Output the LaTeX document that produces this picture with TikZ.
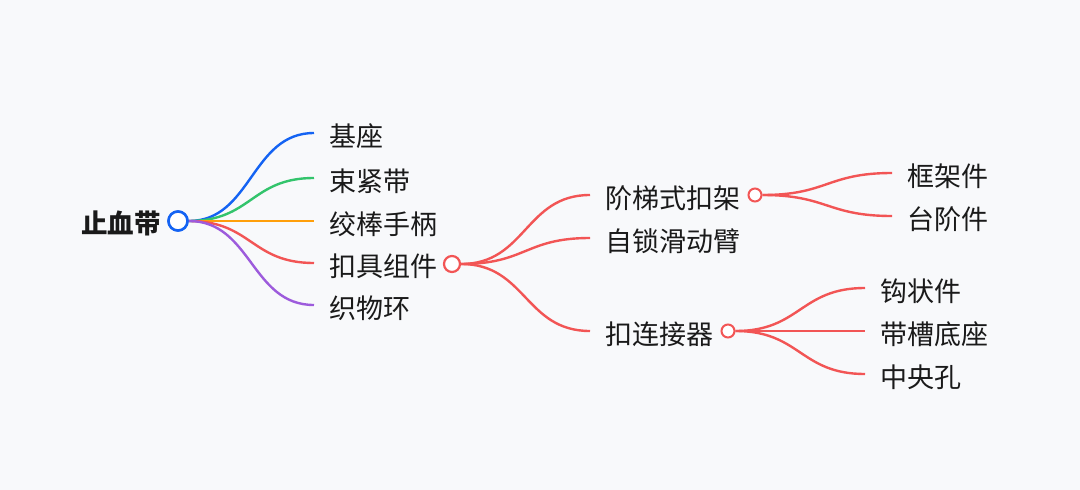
\documentclass[tikz,border=0pt]{standalone}
\usepackage{fontspec}
\setmainfont{Noto Sans CJK SC}
\definecolor{bg}{HTML}{F8F9FB}
\definecolor{txt}{HTML}{1A1A1A}
\definecolor{cblue}{HTML}{1463F3}
\definecolor{cgreen}{HTML}{33C46C}
\definecolor{corange}{HTML}{FF9F0A}
\definecolor{cred}{HTML}{F25555}
\definecolor{cpurple}{HTML}{9D5BDC}
\tikzset{
  lbl/.style={anchor=west, inner xsep=15pt, inner ysep=0pt, text=txt, font=\fontsize{27}{31}\selectfont},
  dot/.style={circle, draw=#1, fill=white, line width=2.2pt, inner sep=0pt},
  link/.style={draw=#1, line width=2.4pt},
}
\begin{document}
\begin{tikzpicture}[x=1pt,y=-1pt]
\fill[bg] (0,0) rectangle (1080,490);
\useasboundingbox (0,0) rectangle (1080,490);

% root
\node[anchor=east, inner sep=0pt, text=txt, font=\fontsize{26.5}{30}\selectfont\bfseries] (root) at (161,223) {止血带};
\node[dot=cblue, minimum size=19pt, line width=2.5pt] (rc) at (178,221) {};

% level 1 (text 3px below line end)
\node[lbl] (a1) at (314,136) {基座};
\node[lbl] (a2) at (314,181) {束紧带};
\node[lbl] (a3) at (314,224) {绞棒手柄};
\node[lbl] (a4) at (314,266) {扣具组件};
\node[lbl] (a5) at (314,308) {织物环};

\draw[link=cblue]   (rc.east) .. controls +(63,0) and +(-63,0) .. ([yshift=3pt]a1.west);
\draw[link=cgreen]  (rc.east) .. controls +(63,0) and +(-63,0) .. ([yshift=3pt]a2.west);
\draw[link=corange] (rc.east) .. controls +(63,0) and +(-63,0) .. ([yshift=3pt]a3.west);
\draw[link=cred]    (rc.east) .. controls +(63,0) and +(-63,0) .. ([yshift=3pt]a4.west);
\draw[link=cpurple] (rc.east) .. controls +(63,0) and +(-63,0) .. ([yshift=3pt]a5.west);
\node[dot=cblue, minimum size=19pt, line width=2.5pt] at (rc) {};

% level 2
\node[dot=cred, minimum size=16pt] (c4) at (452,264) {};
\node[lbl] (b1) at (590,198) {阶梯式扣架};
\node[lbl] (b2) at (590,241) {自锁滑动臂};
\node[lbl] (b3) at (590,334) {扣连接器};
\draw[link=cred] (c4.east) .. controls +(65,0) and +(-65,0) .. ([yshift=3pt]b1.west);
\draw[link=cred] (c4.east) .. controls +(65,0) and +(-65,0) .. ([yshift=3pt]b2.west);
\draw[link=cred] (c4.east) .. controls +(65,0) and +(-65,0) .. ([yshift=3pt]b3.west);

% level 3
\node[dot=cred, minimum size=13pt, line width=2pt] (cb1) at (755,195) {};
\node[dot=cred, minimum size=13pt, line width=2pt] (cb3) at (728,331) {};
\node[lbl] (d1) at (892,176) {框架件};
\node[lbl] (d2) at (892,219) {台阶件};
\node[lbl] (e1) at (865,291) {钩状件};
\node[lbl] (e2) at (865,334) {带槽底座};
\node[lbl] (e3) at (865,377) {中央孔};
\draw[link=cred] (cb1.east) .. controls +(65,0) and +(-65,0) .. ([yshift=3pt]d1.west);
\draw[link=cred] (cb1.east) .. controls +(65,0) and +(-65,0) .. ([yshift=3pt]d2.west);
\draw[link=cred] (cb3.east) .. controls +(65,0) and +(-65,0) .. ([yshift=3pt]e1.west);
\draw[link=cred] (cb3.east) .. controls +(65,0) and +(-65,0) .. ([yshift=3pt]e2.west);
\draw[link=cred] (cb3.east) .. controls +(65,0) and +(-65,0) .. ([yshift=3pt]e3.west);
\end{tikzpicture}
\end{document}
